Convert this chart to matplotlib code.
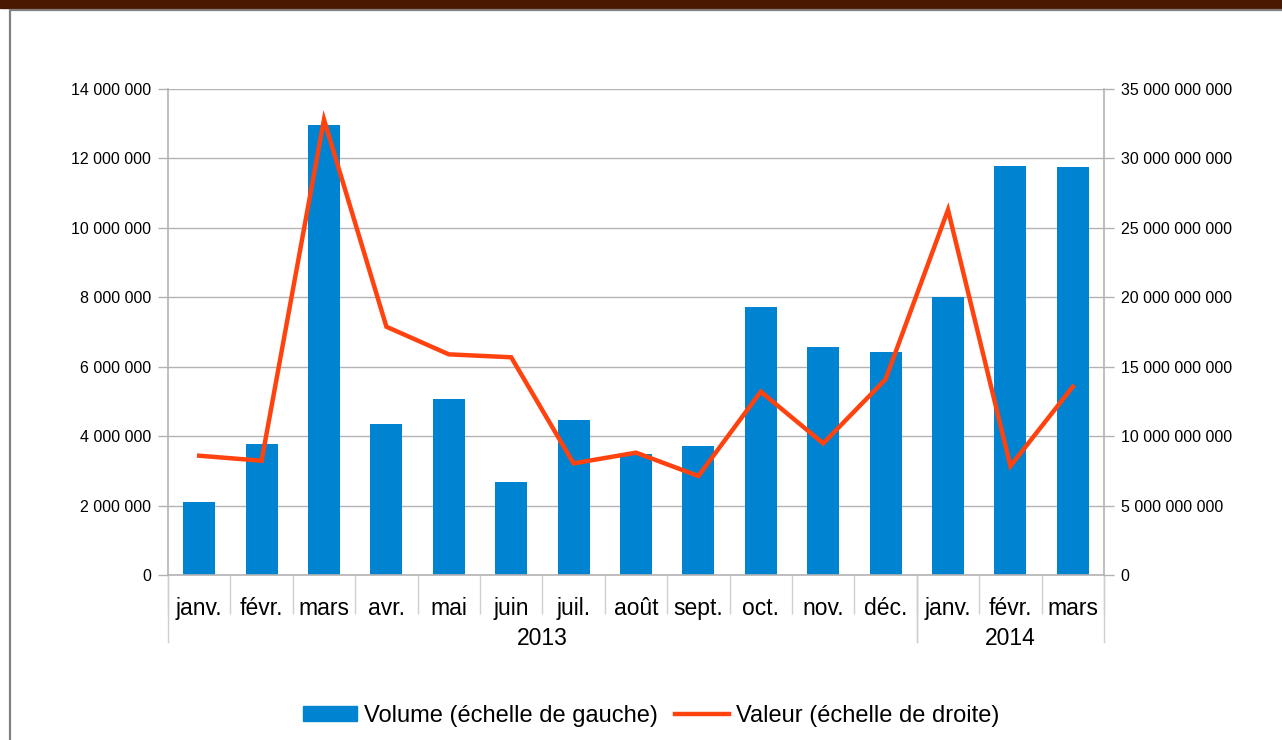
import matplotlib
matplotlib.use('Agg')
import matplotlib.pyplot as plt
from matplotlib.patches import Rectangle, Patch
from matplotlib.lines import Line2D
from matplotlib.ticker import FuncFormatter, MultipleLocator

plt.rcParams['font.family'] = ['Liberation Sans', 'DejaVu Sans']

# données
mois = ["janv.", "févr.", "mars", "avr.", "mai", "juin", "juil.", "août",
        "sept.", "oct.", "nov.", "déc.", "janv.", "févr.", "mars"]
annees = ["2013", "2014"]
mois_par_annee = [12, 3]
volume = [2.10e6, 3.77e6, 12.96e6, 4.35e6, 5.07e6, 2.68e6, 4.47e6, 3.49e6,
          3.71e6, 7.72e6, 6.57e6, 6.42e6, 8.00e6, 11.78e6, 11.75e6]
valeur = [8.59e9, 8.23e9, 32.8e9, 17.88e9, 15.89e9, 15.68e9, 8.04e9, 8.81e9,
          7.13e9, 13.2e9, 9.48e9, 14.1e9, 26.3e9, 7.85e9, 13.56e9]

BLEU = "#0084D1"
ORANGE = "#FF420E"
GRIS = "#b3b3b3"

W, H = 1282, 740
fig = plt.figure(figsize=(W / 100, H / 100), dpi=100)

# bandeau du titre (coupé) et cadre
fig.patches.append(Rectangle((0, 1 - 8 / H), 1, 8 / H, transform=fig.transFigure,
                             color="#4A1800", zorder=0))
fig.patches.append(Rectangle((10 / W, -0.1), 1.2, 1.1 - 10 / H, transform=fig.transFigure,
                             fill=False, edgecolor="#808080", lw=1.6, zorder=0))

ax = fig.add_axes([168 / W, 1 - 575 / H, 936 / W, 486 / H])
x = list(range(len(mois)))
ax.bar(x, volume, width=0.51, color=BLEU, zorder=2)
ax.set_xlim(-0.5, len(mois) - 0.5)
ax.set_ylim(0, 14e6)
ax.yaxis.set_major_locator(MultipleLocator(2e6))
fmt = FuncFormatter(lambda v, p: f"{int(round(v)):,}".replace(",", " "))
ax.yaxis.set_major_formatter(fmt)
ax.grid(axis="y", color=GRIS, lw=1.0, zorder=0)
ax.set_axisbelow(True)

for s in ("top", "right"):
    ax.spines[s].set_visible(False)
for s in ("left", "bottom"):
    ax.spines[s].set_color(GRIS)
    ax.spines[s].set_linewidth(1.2)

ax.tick_params(axis="y", colors=GRIS, labelcolor="black", labelsize=11.5,
               length=7, width=1.0, pad=5)
ax.set_xticks(x)
ax.set_xticklabels(mois, fontsize=16.5)
ax.tick_params(axis="x", length=0, pad=16)
ax.set_xticks([i - 0.5 for i in range(len(mois) + 1)], minor=True)
ax.tick_params(axis="x", which="minor", length=28, width=1.0, color="#cfcfcf")

# séparateurs et libellés des années
trans = ax.get_xaxis_transform()
debut = -0.5
for annee, n in zip(annees, mois_par_annee):
    fin = debut + n
    ax.text((debut + fin) / 2, -0.13, annee, transform=trans, ha="center",
            va="center", fontsize=16.5)
    for xx in (debut, fin):
        ax.add_line(Line2D([xx, xx], [0, -0.138], transform=trans, color="#cfcfcf",
                           lw=1.0, clip_on=False))
    debut = fin

ax2 = ax.twinx()
ax2.plot(x, valeur, color=ORANGE, lw=3.2, solid_joinstyle="miter", zorder=3)
ax2.set_ylim(0, 35e9)
ax2.yaxis.set_major_locator(MultipleLocator(5e9))
ax2.yaxis.set_major_formatter(fmt)
for s in ("top", "left", "bottom"):
    ax2.spines[s].set_visible(False)
ax2.spines["right"].set_color(GRIS)
ax2.spines["right"].set_linewidth(1.2)
ax2.tick_params(axis="y", colors=GRIS, labelcolor="black", labelsize=11.5,
                length=7, width=1.0, pad=5)

handles = [Patch(facecolor=BLEU, edgecolor=BLEU),
           Line2D([0], [0], color=ORANGE, lw=3.2)]
fig.legend(handles, ["Volume (échelle de gauche)", "Valeur (échelle de droite)"],
           loc="center", bbox_to_anchor=(651 / W, 1 - 716 / H), ncol=2, frameon=False,
           fontsize=17, handlelength=2.3, handleheight=0.6, handletextpad=0.3,
           columnspacing=0.7)

fig.savefig("out.png", dpi=100)
